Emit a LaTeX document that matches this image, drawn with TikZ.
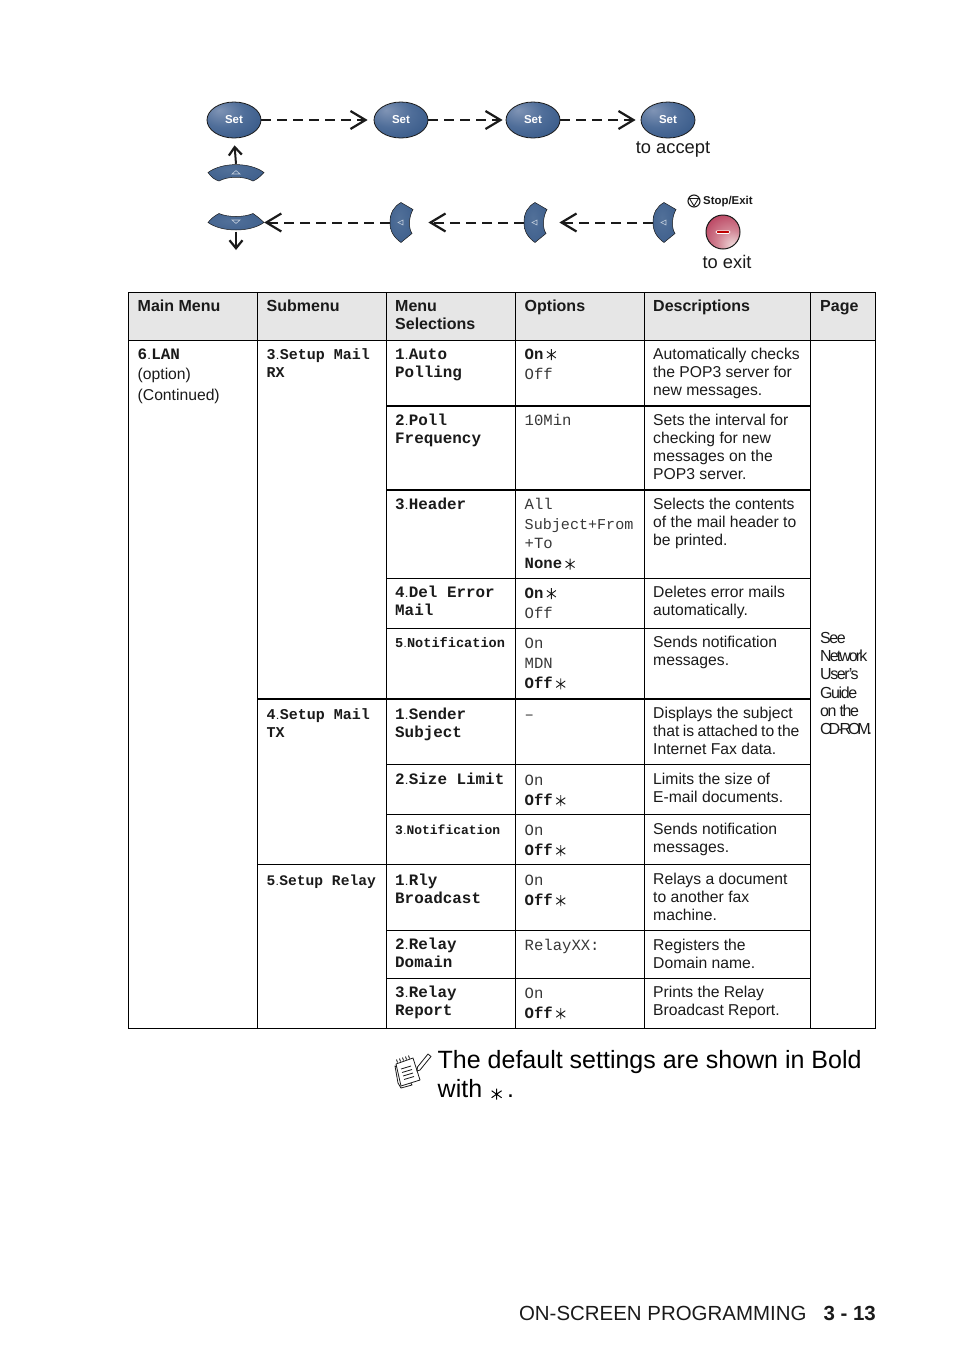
\documentclass[tikz,border=0pt]{standalone}
\usepackage{fontspec}
\setmainfont{Liberation Sans}
\setmonofont{Liberation Mono}
\newfontfamily\tightsans[LetterSpace=-9]{Liberation Sans}
\newfontfamily\tightsansB[LetterSpace=-12]{Liberation Sans}
\newfontfamily\tightsansC[LetterSpace=-19]{Liberation Sans}
\usetikzlibrary{arrows.meta,shapes.geometric}
\pgfdeclareradialshading{setshade}{\pgfpoint{-14bp}{14bp}}{rgb(0bp)=(0.50,0.58,0.71); rgb(20bp)=(0.31,0.43,0.60); rgb(48bp)=(0.17,0.31,0.50); rgb(75bp)=(0.11,0.24,0.42)}
\pgfdeclareradialshading{padblue}{\pgfpoint{-6bp}{6bp}}{rgb(0bp)=(0.32,0.44,0.60); rgb(40bp)=(0.23,0.36,0.54); rgb(80bp)=(0.17,0.30,0.48)}
\pgfdeclareradialshading{redshade}{\pgfpoint{16bp}{-22bp}}{rgb(0bp)=(0.95,0.88,0.88); rgb(20bp)=(0.82,0.52,0.58); rgb(45bp)=(0.71,0.20,0.33); rgb(75bp)=(0.62,0.07,0.22)}
\definecolor{headgray}{HTML}{E6E6E6}
\definecolor{btnblue}{HTML}{3B5E8C}
\definecolor{regtext}{HTML}{383838}
\definecolor{ink}{HTML}{1A1A1A}
\tikzset{
  setbtn/.style={ellipse,draw=ink,line width=0.8pt,shading=setshade,minimum width=54pt,minimum height=36pt,inner sep=0pt,text=white,font=\fontsize{11.5}{13}\selectfont\bfseries},
  hold/.style={inner sep=0pt,minimum width=#1},
  flow/.style={draw=ink,line width=2pt,dash pattern=on 10pt off 6pt,-{Straight Barb[length=15pt,width=18pt,line width=2.2pt]}},
  solidarrow/.style={draw=ink,line width=2pt,-{Straight Barb[length=8pt,width=13pt,line width=2.2pt]}},
  padshape/.style={draw=ink,line width=0.5pt,shading=padblue},
  caption/.style={font=\fontsize{18.3}{20}\selectfont,text=ink,inner sep=0pt},
  hcell/.style={anchor=north west,inner sep=0pt,align=left,text=ink,font=\fontsize{16}{18}\selectfont\bfseries},
  dcell/.style={anchor=north west,inner sep=0pt,align=left,text=ink,font=\fontsize{15.7}{18.1}\selectfont},
  mcell/.style={anchor=north west,inner sep=0pt,align=left,text=ink,font=\fontsize{15.9}{18}\selectfont\ttfamily\bfseries},
  scell/.style={anchor=north west,inner sep=0pt,align=left,text=ink,font=\fontsize{15}{18}\selectfont\ttfamily\bfseries},
  ocell/.style={anchor=north west,inner sep=0pt,align=left,text=regtext,font=\fontsize{15.6}{20.2}\selectfont\ttfamily},
  thinrule/.style={draw=black,line width=1pt},
  thickrule/.style={draw=black,line width=2pt},
}
\newcommand{\hc}[4]{\node[hcell] (#1) at (#2,#3-12.6) {\strut #4};}
\newcommand{\dc}[4]{\node[dcell] (#1) at (#2,#3-12.67) {\strut #4};}
\newcommand{\mc}[4]{\node[mcell] (#1) at (#2,#3-12.6) {\strut #4};}
\newcommand{\sbc}[4]{\node[scell] (#1) at (#2,#3-12.6) {\strut #4};}
\newcommand{\oc}[4]{\node[ocell] (#1) at (#2,#3-14.14) {\strut #4};}
\newcommand{\nd}[1]{#1{\sffamily\mdseries.}}
\newcommand{\bo}[1]{{\bfseries\color{ink}#1}}
\newcommand{\starmark}{\hspace{3pt}\tikz[x=1pt,y=1pt,baseline=0pt,line width=0.9pt,draw=ink]{\draw (4.5,-0.8) -- (4.5,10.2) (0,7.7) -- (9,1.2) (9,7.7) -- (0,1.2);}}
\newcommand{\leftpad}[2]{%
  \node[hold=24pt,minimum height=40pt,anchor=west] (#1) at (#2,222.5) {};
  \begin{scope}[shift={(#2,222.5)}]
    \path[padshape] (0,0) .. controls (0,-10) and (4,-16) .. (11,-20) -- (23,-13)
      .. controls (19,-6) and (18,5) .. (22,11) -- (11,20)
      .. controls (4,15) and (0,9) .. (0,0) -- cycle;
    \draw[draw=white!70!btnblue,line width=0.6pt] (8,0) -- (13,-2.5) -- (13,2.5) -- cycle;
  \end{scope}}
\begin{document}
\begin{tikzpicture}[x=1pt,y=-1pt]
\useasboundingbox (0,0) rectangle (954,1352);

% --- flow panel ---
\node[setbtn] (set1) at (234,120) {Set};
\node[setbtn] (set2) at (401,120) {Set};
\node[setbtn] (set3) at (533,120) {Set};
\node[setbtn] (set4) at (668,120) {Set};
\node[caption] (accept) at (673,149.5) {to accept};

\node[hold=56pt,minimum height=17pt] (up) at (236,172.5) {};
\path[padshape] (208,172.5) .. controls (222,162) and (250,162) .. (264,172.5)
  .. controls (260,177) and (256,180) .. (253,181)
  .. controls (244,176) and (228,176) .. (219,181)
  .. controls (215,180) and (211,177) .. (208,172.5) -- cycle;
\draw[draw=white!70!btnblue,line width=0.6pt] (232,174) -- (240,174) -- (236,170.5) -- cycle;

\node[hold=56pt,minimum height=18pt] (down) at (236,222.5) {};
\path[padshape] (208,222.5) .. controls (211,218.5) and (215,215.5) .. (219,213.5)
  .. controls (228,217.5) and (244,217.5) .. (253,213.5)
  .. controls (256,215.5) and (260,218.5) .. (264,222.5)
  .. controls (250,232.5) and (222,232.5) .. (208,222.5) -- cycle;
\draw[draw=white!70!btnblue,line width=0.6pt] (232,220) -- (240,220) -- (236,223.5) -- cycle;

\leftpad{lp1}{390}
\leftpad{lp2}{524}
\leftpad{lp3}{653}

\draw[flow,shorten >=6pt] (set1.east) -- (set2.west);
\draw[flow,shorten >=3pt] (set2.east) -- (set3.west);
\draw[flow,shorten >=5pt] (set3.east) -- (set4.west);
\draw[flow] (lp1.west) -- (down.east);
\draw[flow,shorten >=14pt] (lp2.west) -- (lp1.east);
\draw[flow,shorten >=11pt] (lp3.west) -- (lp2.east);
\draw[solidarrow,shorten >=7pt] (up.north) -- (set1.south);
\coordinate (downend) at (236,250);
\draw[solidarrow] (down.south) -- (downend);

\node[circle,draw=ink,line width=1.1pt,minimum size=12pt,inner sep=0pt] (stopicon) at (694,201) {};
\draw[draw=ink,line width=0.9pt,line join=round] (689.5,198.5) -- (698.5,198.5) -- (694,206) -- cycle;
\node[inner sep=0pt,anchor=west,text=ink,font=\fontsize{11.4}{13}\selectfont\bfseries] (stoplabel) at (703,201.5) {Stop/Exit};
\node[circle,draw=ink,line width=1pt,shading=redshade,minimum size=34pt,inner sep=0pt] (stopbtn) at (723,232) {};
\draw[draw=white,line width=0.7pt,fill=red!75!black,rounded corners=1.2pt] (716,230.6) rectangle (730,233.4);
\node[caption] (exitlabel) at (727,262) {to exit};

% --- table ---
\fill[headgray] (128.5,292.5) rectangle (875.5,340.5);
\draw[thinrule] (128.5,292.5) rectangle (875.5,1028.5);
\draw[thinrule] (128.5,340.5) -- (875.5,340.5);
\foreach \xx in {257.5,386.5,515.5,644.5,810.5} \draw[thinrule] (\xx,292.5) -- (\xx,1028.5);
\foreach \yy in {578.5,628.5,764.5,814.5,930.5,978.5} \draw[thinrule] (386.5,\yy) -- (810.5,\yy);
\draw[thinrule] (257.5,864.5) -- (810.5,864.5);
\foreach \yy in {405.5,489.5} \draw[thickrule] (386.5,\yy) -- (811,\yy);
\draw[thickrule] (257.5,698.5) -- (811,698.5);

\hc{h1}{137.5}{311}{Main Menu}
\hc{h2}{266.5}{311}{Submenu}
\hc{h3}{395}{311}{Menu\\Selections}
\hc{h4}{524.5}{311}{Options}
\hc{h5}{653}{311}{Descriptions}
\hc{h6}{820}{311}{Page}

\mc{main1}{137.5}{359}{\nd{6}LAN}
\dc{main2}{137.5}{379}{(option)\\[2.8pt](Continued)}

\sbc{sub1}{266.5}{359}{\nd{3}Setup Mail\\RX}
\sbc{sub2}{266.5}{719}{\nd{4}Setup Mail\\TX}
\node[scell,font=\fontsize{14.6}{18}\selectfont\ttfamily\bfseries] (sub3) at (266.5,885-12.6) {\strut\nd{5}Setup Relay};

\mc{m1}{395}{359}{\nd{1}Auto\\Polling}
\mc{m2}{395}{425}{\nd{2}Poll\\Frequency}
\mc{m3}{395}{509}{\nd{3}Header}
\mc{m4}{395}{597}{\nd{4}Del Error\\Mail}
\node[mcell,font=\fontsize{13.6}{18}\selectfont\ttfamily\bfseries] (m5) at (395,647-12.6) {\strut\nd{5}Notification};
\mc{m6}{395}{719}{\nd{1}Sender\\Subject}
\mc{m7}{395}{784}{\nd{2}Size Limit}
\node[mcell,font=\fontsize{13}{18}\selectfont\ttfamily\bfseries] (m8) at (395,834-12.6) {\strut\nd{3}Notification};
\mc{m9}{395}{885}{\nd{1}Rly\\Broadcast}
\mc{m10}{395}{949}{\nd{2}Relay\\Domain}
\mc{m11}{395}{997}{\nd{3}Relay\\Report}

\oc{o1}{524.5}{359}{\bo{On}\starmark\\Off}
\oc{o2}{524.5}{425}{10Min}
\oc{o3}{524.5}{509}{All\\{\fontsize{15.1}{20.2}\selectfont Subject+From}\\[-1pt]+To\\\bo{None}\starmark}
\oc{o4}{524.5}{598}{\bo{On}\starmark\\Off}
\oc{o5}{524.5}{648}{On\\MDN\\\bo{Off}\starmark}
\oc{o6}{524.5}{719}{–}
\oc{o7}{524.5}{785}{On\\\bo{Off}\starmark}
\oc{o8}{524.5}{835}{On\\\bo{Off}\starmark}
\oc{o9}{524.5}{885}{On\\\bo{Off}\starmark}
\oc{o10}{524.5}{950}{RelayXX:}
\oc{o11}{524.5}{998}{On\\\bo{Off}\starmark}

\dc{d1}{653}{359}{Automatically checks\\the POP3 server for\\new messages.}
\dc{d2}{653}{425}{Sets the interval for\\checking for new\\messages on the\\POP3 server.}
\dc{d3}{653}{509}{Selects the contents\\of the mail header to\\be printed.}
\dc{d4}{653}{597}{Deletes error mails\\automatically.}
\dc{d5}{653}{647}{Sends notification\\messages.}
\dc{d6}{653}{718}{Displays the subject\\{\spaceskip=3.4pt that is attached to the}\\Internet Fax data.}
\dc{d7}{653}{784}{Limits the size of\\E-mail documents.}
\dc{d8}{653}{834}{Sends notification\\messages.}
\dc{d9}{653}{884}{Relays a document\\to another fax\\machine.}
\dc{d10}{653}{950}{Registers the\\Domain name.}
\dc{d11}{653}{997}{Prints the Relay\\Broadcast Report.}

\node[anchor=north west,inner sep=0pt,align=left,text=ink,font=\fontsize{16}{18.3}\selectfont\tightsans] (pageref) at (820,643-12.8) {\strut See\\{\tightsansB Network}\\User’s\\Guide\\on the\\{\tightsansC CD-ROM.}};

% --- note ---
\draw[draw=ink,line width=0.8pt,fill=white,line join=round] (395,1066) -- (398,1083) -- (401,1088) -- (412,1085) -- (403,1070) -- cycle;
\draw[draw=ink,line width=0.8pt,fill=white,line join=round] (396,1064) -- (413,1058) -- (420,1080) -- (401,1086) -- cycle;
\foreach \ii in {0,...,4} \draw[draw=ink,line width=0.8pt] (397.5+3*\ii,1062.5-\ii) -- (396.5+3*\ii,1059.5-\ii);
\foreach \ii in {0,...,3} \draw[draw=ink,line width=0.8pt] (401+\ii,1069-\ii*-3.5) -- (411+\ii,1066-\ii*-3.5);
\draw[draw=ink,line width=0.8pt,line join=round,fill=white] (417,1071) -- (420,1070) -- (431,1056.5) -- (428,1054) -- (417.5,1067) -- cycle;

\node[anchor=north west,inner sep=0pt,align=left,text=black,font=\fontsize{25}{29}\selectfont] (note) at (437.5,1068.5-20.3) {\strut The default settings are shown in Bold\\with \hspace{2pt}\tikz[x=1pt,y=1pt,baseline=0pt,line width=1pt]{\draw (5,-2) -- (5,9) (0,7) -- (10,0) (10,7) -- (0,0);}\hspace{5pt}.};

\node[anchor=base east,inner sep=0pt,text=ink,font=\fontsize{20.45}{24}\selectfont] (footer) at (876,1320) {ON-SCREEN PROGRAMMING\hspace{17pt}{\bfseries 3 - 13}};
\end{tikzpicture}
\end{document}
